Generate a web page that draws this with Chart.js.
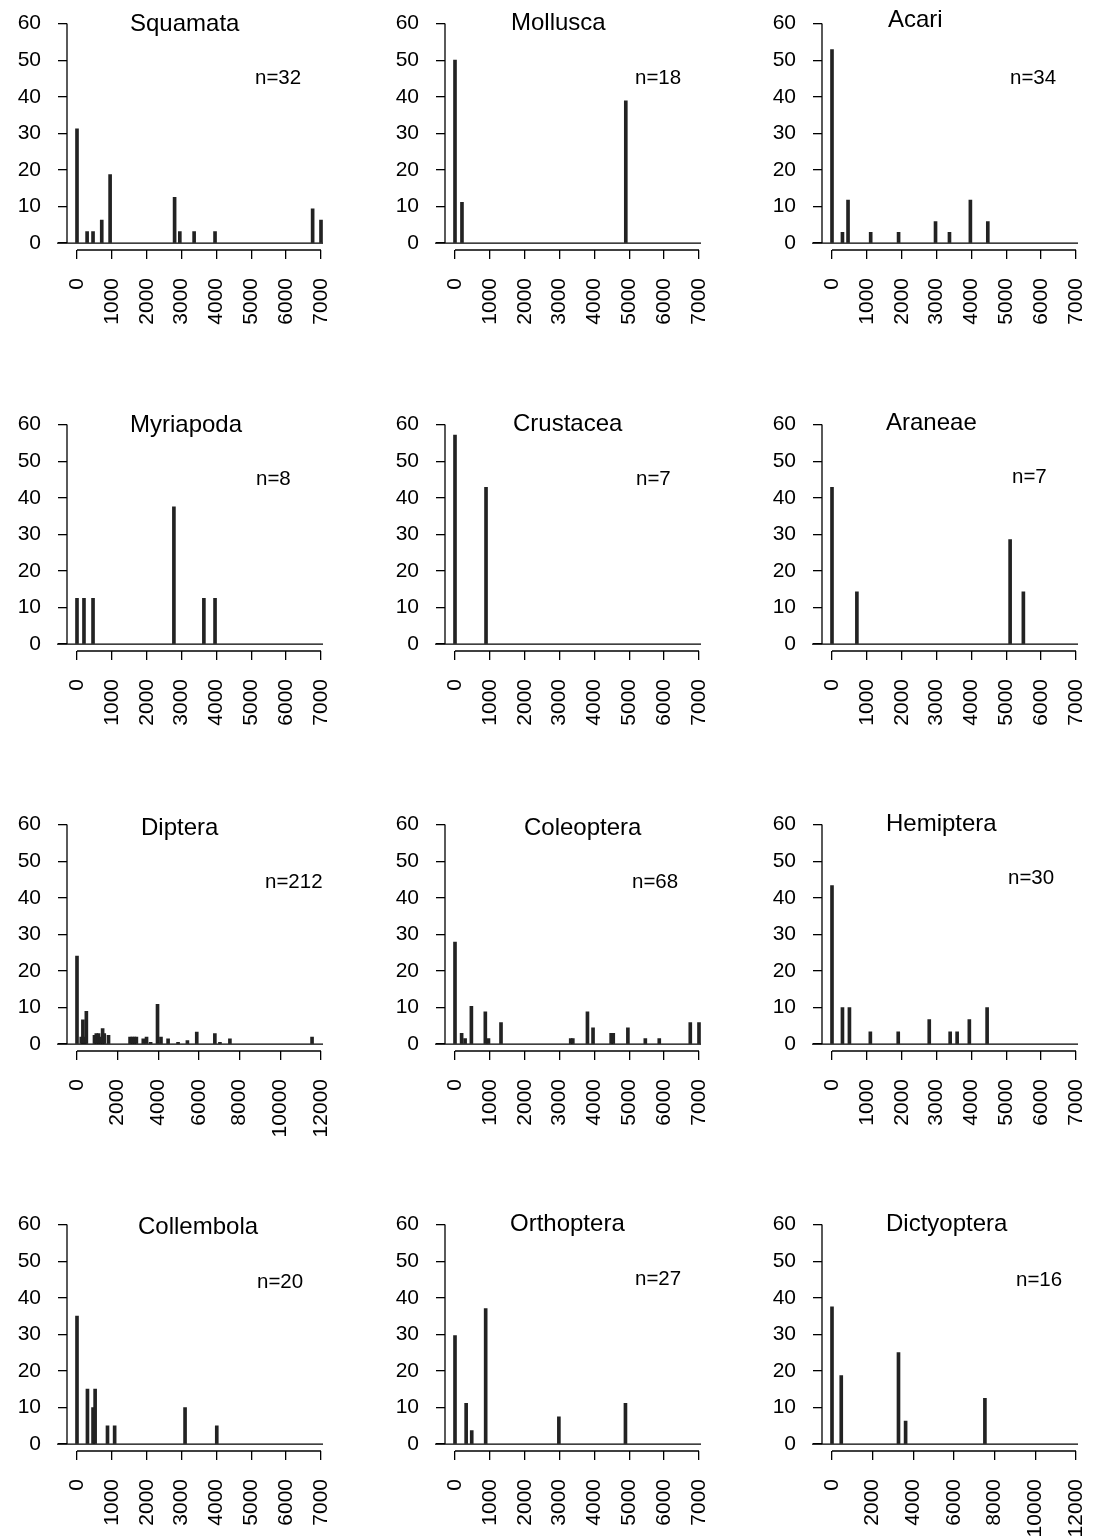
<!DOCTYPE html>
<html><head><meta charset="utf-8">
<script src="https://cdn.jsdelivr.net/npm/chart.js@4"></script>
<style>
body{margin:0;background:#fff;width:1103px;height:1540px;position:relative;overflow:hidden;font-family:"Liberation Sans",Arial,sans-serif}
.p{position:absolute;width:368px;height:407px}
.t{position:absolute;font-size:24px;color:#000;white-space:nowrap;line-height:1}
.n{position:absolute;font-size:20.5px;color:#000;white-space:nowrap;line-height:1}
</style></head><body>
<script>
// Panel names and sample sizes
const taxa = ["Squamata","Mollusca","Acari","Myriapoda","Crustacea","Araneae","Diptera","Coleoptera","Hemiptera","Collembola","Orthoptera","Dictyoptera"];
const nLabels = ["n=32","n=18","n=34","n=8","n=7","n=7","n=212","n=68","n=30","n=20","n=27","n=16"];
const yTicks = [0,10,20,30,40,50,60];
const xTicks7 = [0,1000,2000,3000,4000,5000,6000,7000];
const xTicks12 = [0,2000,4000,6000,8000,10000,12000];

// Per-panel bar positions (elevation) and percentages
const squamataX = [0,290,460,710,950,2800,2950,3360,3960,6760,7000];
const squamataY = [31.25,3.125,3.125,6.25,18.75,12.5,3.125,3.125,3.125,9.375,6.25];
const molluscaX = [0,200,4900];
const molluscaY = [50,11.1,38.9];
const acariX = [0,300,460,1110,1910,2970,3370,3970,4470];
const acariY = [52.9,2.94,11.76,2.94,2.94,5.88,2.94,11.76,5.88];
const myriapodaX = [0,200,460,2780,3640,3960];
const myriapodaY = [12.5,12.5,12.5,37.5,12.5,12.5];
const crustaceaX = [0,890];
const crustaceaY = [57.14,42.86];
const araneaeX = [0,714,5110,5490];
const araneaeY = [42.86,14.29,28.57,14.29];
const dipteraX = [0,210,290,375,460,860,950,1060,1140,1260,1340,1550,2610,2720,2820,2920,3260,3420,3620,3960,4130,4480,4970,5430,5890,6780,7030,7520,11560];
const dipteraY = [24.06,1.89,6.6,1.89,8.96,2.36,2.83,2.83,1.89,4.25,2.83,2.36,1.89,1.89,1.89,1.89,1.42,1.89,0.47,10.85,1.89,1.42,0.47,0.94,3.3,2.83,0.47,1.42,1.89];
const coleopteraX = [0,190,290,470,870,960,1320,3320,3380,3800,3960,4480,4540,4960,5460,5860,6750,7000];
const coleopteraY = [27.9,2.94,1.47,10.3,8.82,1.47,5.88,1.47,1.47,8.82,4.41,2.94,2.94,4.41,1.47,1.47,5.88,5.88];
const hemipteraX = [0,300,500,1100,1900,2790,3390,3590,3940,4450];
const hemipteraY = [43.33,10,10,3.33,3.33,6.67,3.33,3.33,6.67,10];
const collembolaX = [0,300,460,520,875,1080,3100,4010];
const collembolaY = [35,15,10,15,5,5,10,5];
const orthopteraX = [0,320,480,880,2980,4890];
const orthopteraY = [29.63,11.11,3.7,37.04,7.41,11.11];
const dictyopteraX = [0,455,3270,3620,7520];
const dictyopteraY = [37.5,18.75,25,6.25,12.5];

const seriesX = [squamataX,molluscaX,acariX,myriapodaX,crustaceaX,araneaeX,dipteraX,coleopteraX,hemipteraX,collembolaX,orthopteraX,dictyopteraX];
const seriesY = [squamataY,molluscaY,acariY,myriapodaY,crustaceaY,araneaeY,dipteraY,coleopteraY,hemipteraY,collembolaY,orthopteraY,dictyopteraY];
const xTickSets = [xTicks7,xTicks7,xTicks7,xTicks7,xTicks7,xTicks7,xTicks12,xTicks7,xTicks7,xTicks7,xTicks7,xTicks12];

// layout
const colLeft = [0,378,755];
const rowTop = [0,401,801,1201];
const titleLeft = [130,133,133,130,135,131,141,146,131,138,132,131];
const titleDy = [11,10,7,11,10,9,14,14,10,13,10,10];
const nDy = [67,67,67,67,67,65,70,70,66,70,67,68];
const nLeft = [255,257,255,256,258,257,265,254,253,257,257,261];

const FONT = '"Liberation Sans", Arial, sans-serif';

const axesPlugin = {
  id:'rAxes',
  afterDraw(chart){
    const c = chart.ctx, xs = chart.scales.x, ys = chart.scales.y;
    const ticks = chart.options.plugins.rAxes.ticks;
    c.save();
    c.strokeStyle = '#000'; c.lineWidth = 1.3;
    const y0 = ys.getPixelForValue(0);
    c.beginPath();
    c.moveTo(chart.chartArea.left - 10, y0);
    c.lineTo(xs.getPixelForValue(ticks[ticks.length-1]) + 2, y0);
    c.stroke();
    c.beginPath();
    c.moveTo(chart.chartArea.left, ys.getPixelForValue(0));
    c.lineTo(chart.chartArea.left, ys.getPixelForValue(60));
    c.stroke();
    const yb = chart.chartArea.bottom;
    c.beginPath();
    c.moveTo(xs.getPixelForValue(ticks[0]), yb);
    c.lineTo(xs.getPixelForValue(ticks[ticks.length-1]), yb);
    c.stroke();
    c.restore();
  }
};

taxa.forEach((name,i)=>{
  const col = i%3, row = Math.floor(i/3);
  const div = document.createElement('div');
  div.className='p'; div.style.left=colLeft[col]+'px'; div.style.top=(rowTop[row]-6)+'px';
  const cv = document.createElement('canvas'); cv.width=368; cv.height=407;
  div.appendChild(cv); document.body.appendChild(div);
  const t = document.createElement('div'); t.className='t'; t.textContent=name;
  t.style.left=(colLeft[col]+titleLeft[i])+'px'; t.style.top=(rowTop[row]+titleDy[i])+'px';
  document.body.appendChild(t);
  const n = document.createElement('div'); n.className='n'; n.textContent=nLabels[i];
  n.style.left=(colLeft[col]+nLeft[i])+'px'; n.style.top=(rowTop[row]+nDy[i])+'px';
  document.body.appendChild(n);

  const ticks = xTickSets[i];
  const xmax = ticks[ticks.length-1];
  const pxPer = 244/xmax;
  const data = seriesX[i].map((x,k)=>({x:x,y:seriesY[i][k]}));
  new Chart(cv,{
    type:'bar',
    data:{datasets:[{data:data,backgroundColor:'#222',borderWidth:0,barThickness:3}]},
    options:{
      responsive:false,animation:false,devicePixelRatio:1,
      layout:{autoPadding:false,padding:{top:24,right:44,left:0,bottom:0}},
      plugins:{legend:{display:false},tooltip:{enabled:false},rAxes:{ticks:ticks}},
      scales:{
        x:{type:'linear',offset:false,min:-10/pxPer,max:xmax+3/pxPer,
          afterBuildTicks(s){s.ticks=ticks.map(v=>({value:v}));},
          afterFit(s){s.height=151;},
          border:{display:false},
          grid:{display:true,offset:false,drawOnChartArea:false,drawTicks:true,tickLength:9,color:'#000',lineWidth:1.3},
          ticks:{autoSkip:false,minRotation:90,maxRotation:90,padding:19,color:'#000',font:{family:FONT,size:21},callback:v=>String(v)}
        },
        y:{min:-1.9,max:60,
          afterBuildTicks(s){s.ticks=yTicks.map(v=>({value:v}));},
          afterFit(s){s.width=67;},
          border:{display:false},
          grid:{display:true,drawOnChartArea:false,drawTicks:true,tickLength:9,color:'#000',lineWidth:1.3},
          ticks:{padding:17,color:'#000',font:{family:FONT,size:21}}
        }
      }
    },
    plugins:[axesPlugin]
  });
});
</script>
</body></html>
